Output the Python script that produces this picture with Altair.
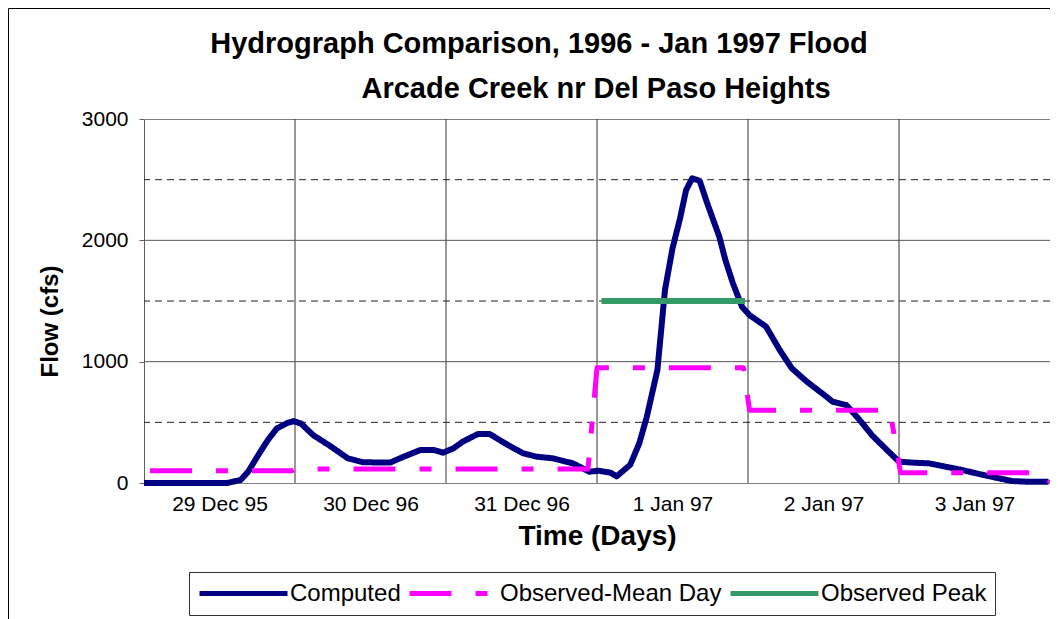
import altair as alt
import pandas as pd

# ---------------- data ----------------
title_line1 = "Hydrograph Comparison, 1996 - Jan 1997 Flood"
title_line2 = "Arcade Creek nr Del Paso Heights"

series_names = ["Computed", "Observed-Mean Day", "Observed Peak"]
series_colors = ["#000080", "#FF00FF", "#339966"]

day_labels = ["29 Dec 95", "30 Dec 96", "31 Dec 96", "1 Jan 97", "2 Jan 97", "3 Jan 97"]
label_positions = [0.5, 1.5, 2.5, 3.5, 4.5, 5.5]
day_bounds = [1, 2, 3, 4, 5]
y_major = [1000, 2000]
y_minor = [500, 1500, 2500]
y_ticks = [0, 1000, 2000, 3000]

comp_days = [0.00, 0.55, 0.64, 0.69, 0.75, 0.82, 0.88, 0.95, 0.99, 1.04,
             1.12, 1.24, 1.35, 1.45, 1.63, 1.72, 1.83, 1.92, 1.98, 2.05,
             2.11, 2.21, 2.29, 2.41, 2.51, 2.60, 2.71, 2.84, 2.95, 3.01,
             3.09, 3.13, 3.22, 3.28, 3.33, 3.40, 3.45, 3.50, 3.55, 3.59,
             3.63, 3.68, 3.73, 3.81, 3.85, 3.90, 3.96, 4.01, 4.12, 4.21,
             4.29, 4.39, 4.52, 4.56, 4.65, 4.74, 4.82, 4.92, 5.00, 5.09,
             5.20, 5.31, 5.42, 5.53, 5.66, 5.75, 5.86, 5.99]
comp_flow = [0, 0, 25, 93, 217, 354, 450, 495, 510, 490,
             395, 299, 203, 171, 168, 217, 272, 272, 250, 286,
             340, 403, 403, 313, 245, 217, 203, 162, 93, 101,
             85, 55, 150, 327, 546, 931, 1590, 1934, 2181, 2414,
             2511, 2491, 2305, 2030, 1838, 1646, 1453, 1384, 1288, 1096,
             945, 835, 711, 670, 643, 519, 395, 272, 176, 168,
             162, 134, 107, 74, 39, 16, 10, 10]

obs_days = [0.04, 0.98, 1.00, 2.94, 3.00, 3.97, 4.01, 4.94, 5.01, 5.965, 6.00]
obs_flow = [100, 100, 115, 115, 950, 950, 600, 600, 85, 85, 5]

peak_days = [3.03, 3.98]
peak_flow = [1500, 1500]

# ---------------- tables ----------------
comp_df = pd.DataFrame({"day": comp_days, "flow": comp_flow, "series": series_names[0]})
obs_df = pd.DataFrame({"day": obs_days, "flow": obs_flow, "series": series_names[1]})
peak_df = pd.DataFrame({"day": peak_days, "flow": peak_flow, "series": series_names[2]})

FONT = "Liberation Sans"

label_expr = "[" + ",".join("'" + s + "'" for s in day_labels) + "][floor(datum.value)]"

x_scale = alt.Scale(domain=[0, 6], nice=False, zero=False)
y_scale = alt.Scale(domain=[0, 3000], nice=False)

x_axis = alt.Axis(values=label_positions, labelExpr=label_expr, grid=False, ticks=False,
                  tickSize=0, domainColor="#808080", labelFontSize=21, labelFont=FONT,
                  labelColor="black", labelBaseline="alphabetic", labelPadding=27,
                  labelOverlap=False, labelFlush=False,
                  title="Time (Days)", titleFont=FONT, titleFontSize=28,
                  titleFontWeight="bold", titleColor="black", titleBaseline="alphabetic",
                  titleY=61)
y_axis = alt.Axis(values=y_ticks, format="d", grid=False, tickSize=5, tickColor="#606060",
                  domainColor="#606060", labelFontSize=21, labelFont=FONT,
                  labelColor="black", labelPadding=11,
                  title="Flow  (cfs)", titleFont=FONT, titleFontSize=24,
                  titleFontWeight="bold", titleColor="black", titleAngle=-90,
                  titleAlign="center", titleBaseline="middle", titleX=-94, titleY=202)

color_scale = alt.Scale(domain=series_names, range=series_colors)
dash_scale = alt.Scale(domain=series_names, range=[[1, 0], [42, 24, 12, 24], [1, 0]])

legend = alt.Legend(orient="none", legendX=45, legendY=453, direction="horizontal",
                    title=None, symbolType="stroke", symbolSize=7744, symbolStrokeWidth=5,
                    clipHeight=27,
                    labelFont=FONT, labelFontSize=24, labelColor="black", labelOffset=0,
                    columnPadding=6, padding=8, strokeColor="#333333", fillColor="white",
                    labelLimit=400)

def series_layer(df, width):
    return alt.Chart(df).mark_line(strokeWidth=width, strokeCap="butt", strokeJoin="round").encode(
        x=alt.X("day:Q", scale=x_scale, axis=x_axis),
        y=alt.Y("flow:Q", scale=y_scale, axis=y_axis),
        color=alt.Color("series:N", scale=color_scale, legend=legend),
        strokeDash=alt.StrokeDash("series:N", scale=dash_scale, legend=legend),
        order="day:Q",
    )

vgrid = alt.Chart(pd.DataFrame({"day": day_bounds})).mark_rule(color="#333333", strokeWidth=1).encode(
    x=alt.X("day:Q", scale=x_scale))
hgrid = alt.Chart(pd.DataFrame({"flow": y_major})).mark_rule(color="#555555", strokeWidth=1).encode(
    y=alt.Y("flow:Q", scale=y_scale))
hminor = alt.Chart(pd.DataFrame({"flow": y_minor})).mark_rule(color="#222222", strokeWidth=1,
                                                               strokeDash=[7, 5]).encode(
    y=alt.Y("flow:Q", scale=y_scale))

t1 = alt.Chart(pd.DataFrame({"t": [title_line1]})).mark_text(
    font=FONT, fontSize=29, fontWeight="bold", align="center", baseline="alphabetic", color="black"
).encode(x=alt.value(395), y=alt.value(-66), text="t:N")
t2 = alt.Chart(pd.DataFrame({"t": [title_line2]})).mark_text(
    font=FONT, fontSize=29, fontWeight="bold", align="center", baseline="alphabetic", color="black"
).encode(x=alt.value(452), y=alt.value(-21), text="t:N")

frame = alt.Chart(pd.DataFrame({"f": [0]})).mark_rect(filled=False, stroke="black", strokeWidth=1).encode(
    x=alt.value(-135.5), x2=alt.value(1000), y=alt.value(-110.5), y2=alt.value(700))

chart = alt.layer(
    frame, vgrid, hgrid, hminor,
    series_layer(comp_df, 6),
    series_layer(obs_df, 5),
    series_layer(peak_df, 6),
    t1, t2,
).resolve_scale(color="shared", strokeDash="shared").properties(
    width=906, height=364,
    autosize=alt.AutoSizeParams(type="none"),
    padding={"left": 136, "top": 111, "right": 0, "bottom": 136},
    background="white",
).configure_view(stroke="#808080", strokeWidth=1)

chart.save("out.html", embed_options={"renderer": "svg", "actions": False})
